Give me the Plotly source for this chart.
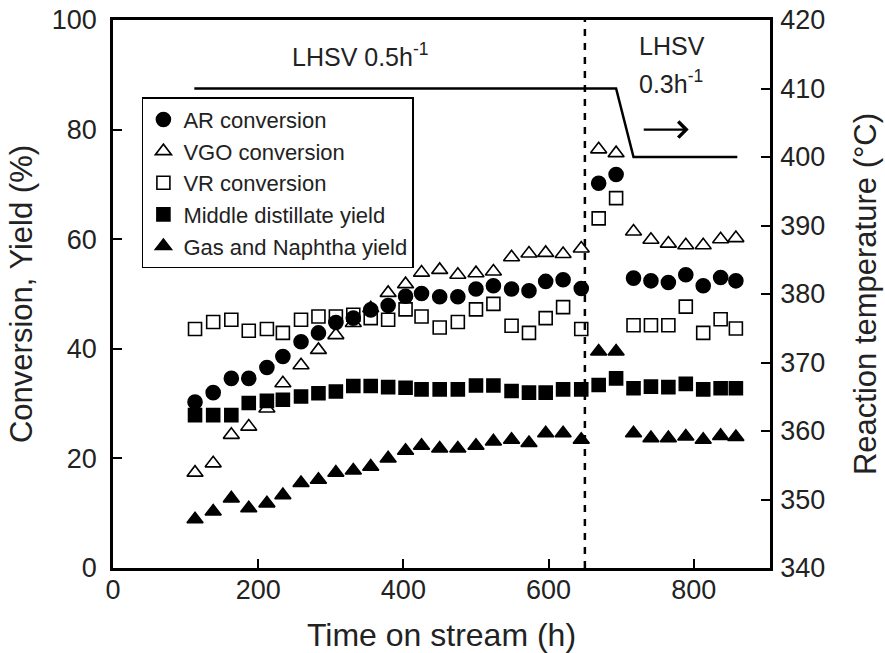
import plotly.graph_objects as go

# Time on stream (h)
time_h = [113, 138, 163, 187, 212, 234, 259, 283, 307, 331, 355, 379, 403, 425, 450, 475,
          500, 524, 549, 573, 596, 620, 645, 669, 693, 717, 741, 765, 789, 813, 837, 858]

ar_conv = [30.3, 32.0, 34.6, 34.6, 36.6, 38.6, 41.3, 42.9, 44.8, 45.6, 47.1, 47.9, 49.6, 50.1, 49.5, 49.5,
           50.9, 51.5, 50.9, 50.6, 52.3, 52.6, 51.0, 70.2, 71.8, 52.9, 52.4, 52.1, 53.5, 51.5, 53.0, 52.4]

vgo_conv = [17.4, 19.1, 24.3, 25.8, 29.1, 33.7, 37.0, 39.8, 42.5, 44.7, 47.4, 50.2, 51.8, 53.9, 54.4, 53.5,
            53.8, 54.1, 56.7, 57.4, 57.5, 57.3, 58.3, 76.4, 75.7, 61.4, 59.9, 59.2, 58.9, 58.9, 60.0, 60.2]

vr_conv = [43.6, 44.9, 45.3, 43.3, 43.6, 42.9, 45.3, 45.9, 45.9, 46.2, 45.6, 45.3, 47.2, 45.9, 43.9, 44.9,
           47.2, 48.2, 44.2, 42.9, 45.6, 47.6, 43.6, 63.8, 67.5, 44.3, 44.3, 44.3, 47.7, 42.9, 45.4, 43.7]

md_yield = [27.9, 27.9, 27.9, 30.1, 30.5, 30.7, 31.3, 31.9, 32.2, 33.2, 33.2, 33.0, 32.9, 32.6, 32.6, 32.6,
            33.3, 33.3, 32.3, 32.0, 32.0, 32.6, 32.6, 33.4, 34.6, 32.8, 33.1, 33.0, 33.6, 32.6, 32.8, 32.8]

gn_yield = [8.9, 10.3, 12.7, 10.9, 11.8, 13.3, 15.5, 16.1, 17.4, 17.8, 18.5, 20.0, 21.4, 22.3, 21.8, 21.8,
            22.3, 23.1, 23.4, 22.8, 24.6, 24.6, 23.4, 39.5, 39.5, 24.6, 23.7, 23.7, 24.0, 23.4, 24.1, 23.9]

# Reaction temperature profile
temp_time = [112, 693, 717, 860]
temp_c = [410, 410, 400, 400]

lhsv_change_h = 650

x_ticks = [0, 200, 400, 600, 800]
y_ticks = [0, 20, 40, 60, 80, 100]
y2_ticks = [340, 350, 360, 370, 380, 390, 400, 410, 420]

FONT = "Liberation Sans, Arial, sans-serif"
BLACK = "black"
TXT = "#222"

fig = go.Figure()

series = [
    ("AR conversion", ar_conv, "circle", 14),
    ("VGO conversion", vgo_conv, "triangle-up-open", 14),
    ("VR conversion", vr_conv, "square-open", 13),
    ("Middle distillate yield", md_yield, "square", 13),
    ("Gas and Naphtha yield", gn_yield, "triangle-up", 14),
]
for name, vals, sym, sz in series:
    fig.add_trace(go.Scatter(
        x=time_h, y=vals, mode="markers", name=name,
        marker=dict(symbol=sym, size=sz, color=BLACK, line=dict(color=BLACK, width=1.6)),
    ))

fig.add_trace(go.Scatter(
    x=temp_time, y=temp_c, mode="lines", yaxis="y2", showlegend=False,
    line=dict(color=BLACK, width=2.5),
))

fig.add_shape(type="line", xref="x", yref="y", x0=lhsv_change_h, x1=lhsv_change_h, y0=0, y1=100,
              line=dict(color=BLACK, width=2.5, dash="7px,7px"))

fig.add_annotation(x=340, y=93.6, xref="x", yref="y", text="LHSV 0.5h<sup>-1</sup>",
                   showarrow=False, font=dict(family=FONT, size=25, color=TXT))
fig.add_annotation(x=722, y=95.2, xref="x", yref="y", text="LHSV", xanchor="left",
                   showarrow=False, font=dict(family=FONT, size=25, color=TXT))
fig.add_annotation(x=722, y=88.6, xref="x", yref="y", text="0.3h<sup>-1</sup>", xanchor="left",
                   showarrow=False, font=dict(family=FONT, size=25, color=TXT))
# arrow pointing to right axis
fig.add_annotation(x=793, y=80, ax=729, ay=80, xref="x", yref="y", axref="x", ayref="y",
                   text="", showarrow=True, arrowhead=4, arrowsize=1.4, arrowwidth=2.2,
                   arrowcolor=BLACK)

fig.update_layout(
    width=885, height=653,
    margin=dict(l=113, r=115, t=20, b=85, autoexpand=False),
    paper_bgcolor="white", plot_bgcolor="white",
    font=dict(family=FONT, color=TXT, size=27),
    showlegend=True,
    legend=dict(x=0.044, y=0.859, xanchor="left", yanchor="top",
                bordercolor=BLACK, borderwidth=1.5, bgcolor="white",
                font=dict(family=FONT, size=22, color=TXT),
                entrywidth=275, entrywidthmode="pixels",
                itemsizing="trace", tracegroupgap=0),
    xaxis=dict(range=[0, 905], tickvals=x_ticks, ticks="inside", ticklen=9, tickwidth=2,
               tickcolor=BLACK, showline=True, linecolor=BLACK, linewidth=2.5, mirror=True,
               showgrid=False, zeroline=False, tickfont=dict(size=27), automargin=False,
               ticklabelstandoff=-4,
               title=dict(text="Time on stream (h)", font=dict(size=32), standoff=20)),
    yaxis=dict(range=[0, 100], tickvals=y_ticks, ticks="inside", ticklen=9, tickwidth=2,
               tickcolor=BLACK, showline=True, linecolor=BLACK, linewidth=2.5,
               showgrid=False, zeroline=False, tickfont=dict(size=27), automargin=False,
               ticklabelstandoff=8,
               title=dict(text="Conversion, Yield (%)", font=dict(size=31), standoff=10)),
    yaxis2=dict(range=[340, 420], tickvals=y2_ticks, overlaying="y", side="right",
                ticks="inside", ticklen=9, tickwidth=2, tickcolor=BLACK,
                showline=True, linecolor=BLACK, linewidth=2.5, automargin=False,
                showgrid=False, zeroline=False, tickfont=dict(size=27),
                ticklabelstandoff=2,
                title=dict(text="Reaction temperature (°C)", font=dict(size=31), standoff=31)),
)

fig.write_html("out.html", config={"displayModeBar": False},
               post_script="document.body.style.margin='0';document.body.style.overflow='hidden';")
